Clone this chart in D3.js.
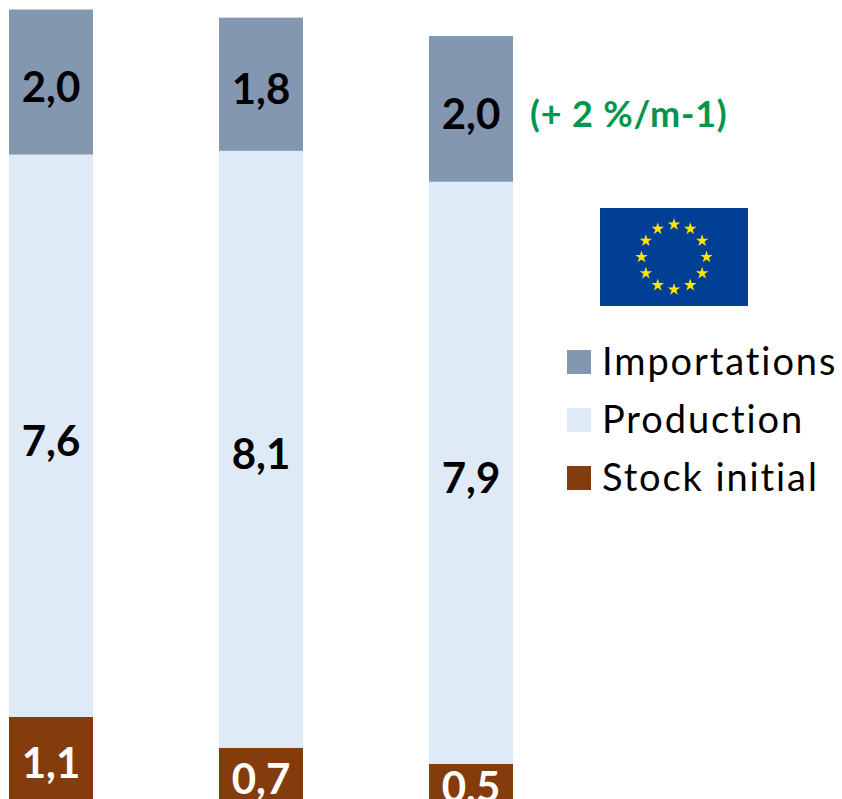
<!DOCTYPE html>
<html>
<head>
<meta charset="utf-8">
<script src="https://cdn.jsdelivr.net/npm/d3@7/dist/d3.min.js"></script>
<style>
	html, body { margin: 0; padding: 0; background: #fff; overflow: hidden; }
	svg { display: block; }
	text { font-family: Lato, sans-serif; }
</style>
</head>
<body>
<script>
// values, a bit finer than the printed labels
var categories = ["barre 1", "barre 2", "barre 3"];
var stockInitial = [1.13, 0.71, 0.49];
var production = [7.64, 8.11, 7.91];
var importations = [1.97, 1.81, 1.98];
var seriesNames = ["Stock initial", "Production", "Importations"];
var seriesColors = ["#843c0c", "#deeaf6", "#8497b0"];
var labelColors = ["#ffffff", "#000000", "#000000"];
var legendOrder = ["Importations", "Production", "Stock initial"];
var note = "(+ 2 %/m-1)";

var width = 842, height = 799;

var svg = d3.select("body").append("svg")
	.attr("width", width)
	.attr("height", height);

var rows = categories.map(function(c, i) {
	return {
		category: c,
		"Stock initial": stockInitial[i],
		"Production": production[i],
		"Importations": importations[i]
	};
});

var stacked = d3.stack().keys(seriesNames)(rows);

var x = d3.scaleBand()
	.domain(categories)
	.range([9, 513])
	.paddingInner(0.6)
	.paddingOuter(0);

var y = d3.scaleLinear()
	.domain([0, 10])
	.range([800, 64]);

var color = d3.scaleOrdinal().domain(seriesNames).range(seriesColors);
var labelColor = d3.scaleOrdinal().domain(seriesNames).range(labelColors);

function comma(v) {
	return v.toFixed(1).replace(".", ",");
}

var layers = svg.selectAll("g.layer")
	.data(stacked)
	.enter()
	.append("g")
	.attr("class", "layer");

layers.selectAll("rect")
	.data(function(d) { return d; })
	.enter()
	.append("rect")
	.attr("x", function(d) { return x(d.data.category); })
	.attr("y", function(d) { return y(d[1]); })
	.attr("width", x.bandwidth())
	.attr("height", function(d) { return y(d[0]) - y(d[1]); })
	.attr("fill", function(d, i, nodes) { return color(d3.select(nodes[i].parentNode).datum().key); });

layers.selectAll("text")
	.data(function(d) { return d; })
	.enter()
	.append("text")
	.attr("x", function(d) { return x(d.data.category) + x.bandwidth() / 2; })
	.attr("y", function(d) { return (y(d[0]) + y(d[1])) / 2 + 20; })
	.attr("text-anchor", "middle")
	.attr("font-size", 42)
	.attr("font-weight", 700)
	.attr("fill", function(d, i, nodes) { return labelColor(d3.select(nodes[i].parentNode).datum().key); })
	.text(function(d) { return comma(d[1] - d[0]); });

// green note next to the last bar
svg.append("text")
	.attr("x", 530)
	.attr("y", 127)
	.attr("font-size", 36)
	.attr("font-weight", 700)
	.attr("letter-spacing", 0.8)
	.attr("fill", "#00964b")
	.text(note);

// flag
var flag = svg.append("g").attr("transform", "translate(600,208)");

flag.append("rect")
	.attr("width", 148)
	.attr("height", 98)
	.attr("fill", "#003f94");

flag.selectAll("path")
	.data(d3.range(12))
	.enter()
	.append("path")
	.attr("d", d3.symbol().type(d3.symbolStar).size(48))
	.attr("fill", "#ffe600")
	.attr("transform", function(d) {
		var a = d / 12 * 2 * Math.PI;
		return "translate(" + (74 + 32.5 * Math.sin(a)) + "," + (49 - 32.5 * Math.cos(a)) + ")";
	});

// legend
var legend = svg.selectAll("g.legend")
	.data(legendOrder)
	.enter()
	.append("g")
	.attr("class", "legend")
	.attr("transform", function(d, i) { return "translate(567," + (350 + i * 58) + ")"; });

legend.append("rect")
	.attr("width", 24)
	.attr("height", 24)
	.attr("fill", function(d) { return color(d); });

legend.append("text")
	.attr("x", 35)
	.attr("y", 25)
	.attr("font-size", 38)
	.attr("letter-spacing", 1.9)
	.attr("fill", "#000")
	.text(function(d) { return d; });
</script>
</body>
</html>
